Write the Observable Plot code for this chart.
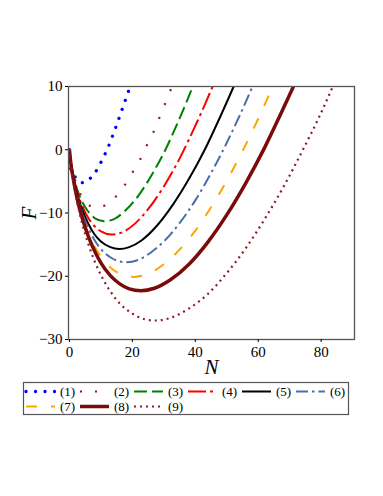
<!DOCTYPE html>
<html><head><meta charset="utf-8">
<script src="https://cdn.jsdelivr.net/npm/d3@7"></script>
<script src="https://cdn.jsdelivr.net/npm/@observablehq/plot@0.6"></script>
<style>
body{margin:0;background:#fff;}
#chart svg{display:block;}
#chart svg, #chart svg text{font-family:"Liberation Serif","Times New Roman",Times,serif !important;}
g[aria-label="x-axis label"] text, g[aria-label="y-axis label"] text{font-style:italic;font-size:21px;}
</style></head><body>
<div id="chart"></div>
<script>
// [N, F] readings for each curve
const curve1 = [[0,0],[0.15,-1.6],[0.4,-3.0],[1,-3.8],[2,-4.4],[3,-5.0],[4,-5.2],[5,-5.1],[6.2,-4.7],[8.3,-3.5],[10,-2.0],[12.2,0.3],[14.4,3.1],[16.4,5.9],[18.3,8.6],[19.3,10]];
const curve2 = [[0,0],[0.5,-2.0],[1,-3.2],[2,-5.1],[3.7,-7.2],[5.5,-8.5],[7.3,-9.0],[9,-9.1],[11.7,-8.7],[15.1,-7.2],[18.1,-5.2],[20.5,-3.2],[22.8,-1.2],[24.9,1.0],[26.9,3.0],[28.7,5.2],[30.5,7.4],[32.6,10]];
const curve3 = [[0,0],[0.5,-2.0],[1,-3.4],[2,-5.5],[3,-7.0],[4,-8.2],[6,-9.8],[8,-10.8],[11,-11.3],[14,-11.0],[18,-9.5],[22,-7.2],[26,-4.1],[30,-0.5],[34,3.8],[37,7.3],[39.2,10]];
const curve4 = [[0,0],[0.5,-2.1],[1,-3.6],[2,-5.8],[3,-7.5],[4,-8.8],[6,-10.8],[8,-12.1],[10,-12.9],[13.4,-13.4],[17,-13.0],[21,-11.6],[25,-9.4],[30,-5.8],[35,-1.4],[40,3.8],[43,7.1],[45.5,10]];
const curve5 = [[0,0],[0.5,-2.2],[1,-3.7],[2,-6.1],[3,-7.9],[4,-9.4],[6,-11.7],[8,-13.4],[10,-14.5],[13,-15.4],[15.8,-15.7],[19,-15.4],[23,-14.3],[28,-11.9],[33,-8.6],[38,-4.6],[43,0],[48,5.3],[52.2,10]];
const curve6 = [[0,0],[0.5,-2.3],[1,-3.8],[2,-6.3],[3,-8.3],[4,-9.9],[6,-12.4],[8,-14.3],[10,-15.7],[13,-17.0],[18,-17.8],[22,-17.4],[26,-16.2],[30,-14.5],[35,-11.6],[40,-8.0],[45,-3.7],[50,1.1],[54,5.3],[58.2,10]];
const curve7 = [[0,0],[0.5,-2.3],[1,-4.0],[2,-6.6],[3,-8.6],[4,-10.4],[6,-13.2],[8,-15.3],[10,-16.9],[13,-18.6],[16,-19.6],[20.3,-20.1],[25,-19.6],[30,-18.1],[35,-15.8],[40,-12.8],[45,-9.1],[50,-4.9],[55,-0.2],[60,4.9],[64.6,10]];
const curve8 = [[0,0],[0.5,-2.4],[1,-4.0],[2,-6.7],[3,-8.9],[4,-10.7],[6,-13.7],[8,-16.0],[10,-17.9],[13,-19.9],[16,-21.2],[19,-22.0],[22.7,-22.3],[27,-21.9],[32,-20.6],[38,-18.1],[44,-14.6],[50,-10.3],[56,-5.3],[62,0.3],[67,5.5],[71.2,10]];
const curve9 = [[0,0],[0.5,-2.4],[1,-4.3],[2,-7.2],[3,-9.5],[4,-11.6],[6,-14.9],[8,-17.6],[10,-19.8],[13,-22.4],[16,-24.3],[20,-25.9],[24,-26.8],[27.3,-27.0],[32,-26.6],[38,-25.1],[44,-22.8],[50,-19.5],[56,-15.6],[62,-11.0],[68,-5.9],[74,-0.2],[79,4.8],[83.7,10]];

const seriesLabels = ["(1)","(2)","(3)","(4)","(5)","(6)","(7)","(8)","(9)"];
const xTicks = [0,20,40,60,80];
const yTicks = [10,0,-10,-20,-30];

const curves = [curve1,curve2,curve3,curve4,curve5,curve6,curve7,curve8,curve9];
const styles = [
  {color:"#0000ff", w:3.3, dash:"0.01 9.5", cap:"round"},
  {color:"#8c1c26", w:2.2, dash:"2 13", cap:"butt"},
  {color:"#008000", w:2, dash:"13 5", cap:"butt"},
  {color:"#ff0000", w:2, dash:"18 4 3 4", cap:"butt"},
  {color:"#000000", w:2, dash:null, cap:"butt"},
  {color:"#4a6ea8", w:2, dash:"12 4 2.5 4", cap:"butt"},
  {color:"#ffa500", w:2, dash:"11 14", cap:"butt"},
  {color:"#7b0a0a", w:3.5, dash:null, cap:"butt"},
  {color:"#8c1c26", w:2.2, dash:"2 4", cap:"butt"}
];

const lineMarks = curves.map((c,i)=>Plot.line(c, {
  x: d=>d[0], y: d=>d[1], stroke: styles[i].color, strokeWidth: styles[i].w,
  strokeDasharray: styles[i].dash || undefined, strokeLinecap: styles[i].cap,
  curve: "monotone-x", clip: true
}));

const chart = Plot.plot({
  width: 383, height: 378,
  marginTop: 86, marginBottom: 39, marginLeft: 68, marginRight: 29,
  style: {fontFamily: "'Liberation Serif', 'Times New Roman', serif", fontSize: "14px", color: "#000", background: "#fff"},
  x: {domain: [-0.3, 90.6]},
  y: {domain: [-30, 10]},
  marks: [
    ...lineMarks,
    Plot.frame({stroke: "#555", strokeWidth: 1.3}),
    Plot.axisX(xTicks, {tickSize: 3, tickPadding: 4, fontSize: 15, label: "N", labelAnchor: "center", labelArrow: "none", labelOffset: 34}),
    Plot.axisY(yTicks, {tickSize: 3, tickPadding: 3, fontSize: 15, label: "F", labelAnchor: "center", labelArrow: "none", labelOffset: 47})
  ]
});
document.getElementById("chart").appendChild(chart);

// Legend below the plot
const leg = d3.select("#chart").append("svg").attr("width", 383).attr("height", 60)
  .style("font-size", "13px");
leg.append("rect").attr("x", 23.5).attr("y", 4.5).attr("width", 325).attr("height", 32)
  .attr("fill", "none").attr("stroke", "#555").attr("stroke-width", 1.2);
seriesLabels.forEach((lab, i) => {
  const row = i < 6 ? 0 : 1;
  const col = i < 6 ? i : i - 6;
  const x0 = 26 + col * 54;
  const yy = 13.5 + row * 15;
  const s = styles[i];
  const ln = leg.append("line").attr("x1", x0).attr("x2", x0 + 29).attr("y1", yy).attr("y2", yy)
    .attr("stroke", s.color).attr("stroke-width", s.w).attr("stroke-linecap", s.cap);
  if (s.dash) ln.attr("stroke-dasharray", s.dash);
  leg.append("text").attr("x", x0 + 34).attr("y", yy).attr("dy", "0.35em").text(lab);
});
</script>
</body></html>
